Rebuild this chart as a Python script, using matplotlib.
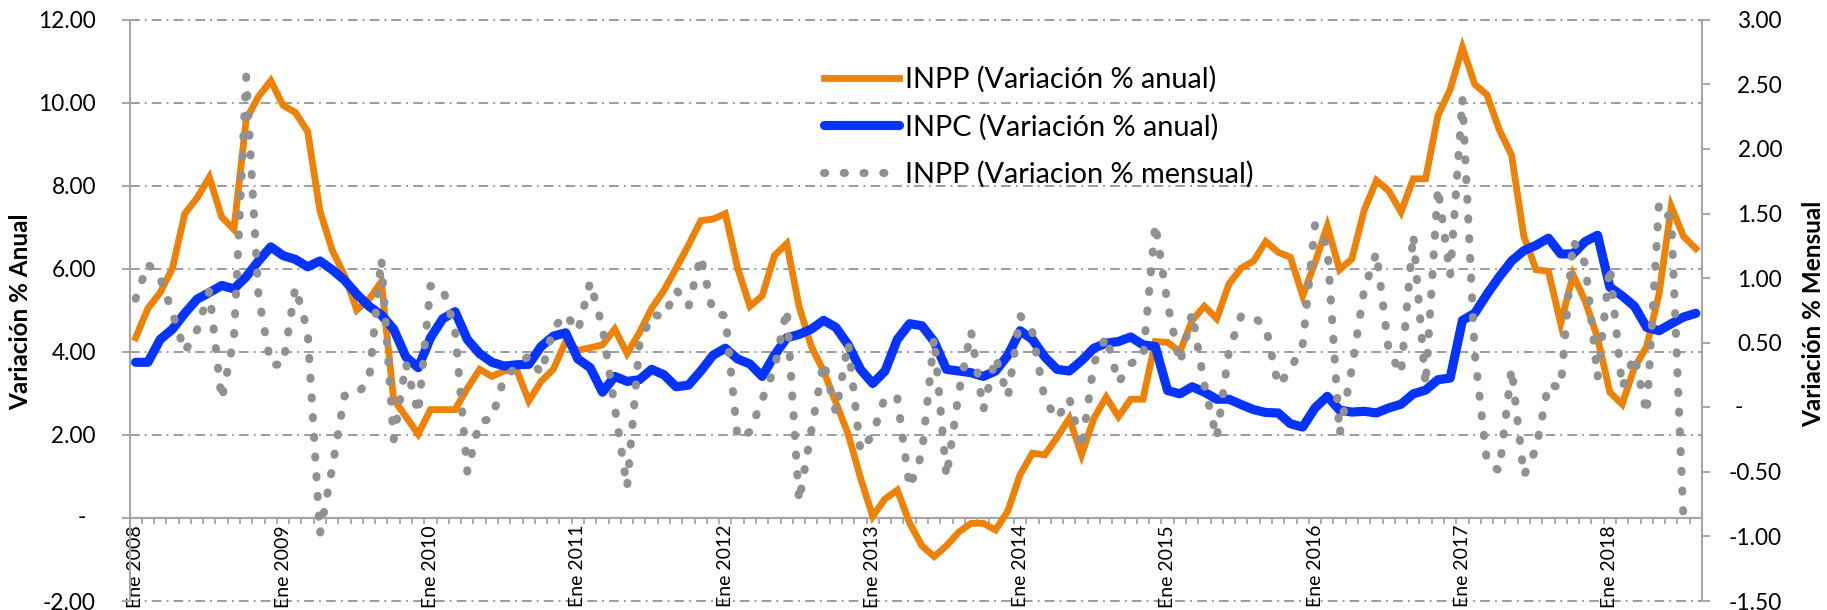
import matplotlib
matplotlib.use('Agg')
import matplotlib.pyplot as plt
import numpy as np
from matplotlib.transforms import offset_copy

# ---------------- data (monthly, Ene 2008 - Ago 2018) ----------------
inpp_anual = [4.34, 5.05, 5.43, 6.02, 7.33, 7.71, 8.21, 7.25, 6.95, 9.60, 10.15, 10.53,
              9.94, 9.77, 9.31, 7.40, 6.45, 5.85, 5.01, 5.27, 5.69, 2.86, 2.44, 2.02,
              2.61, 2.61, 2.61, 3.12, 3.58, 3.41, 3.54, 3.58, 2.82, 3.29, 3.58, 4.25,
              4.04, 4.10, 4.17, 4.55, 3.96, 4.46, 5.05, 5.48, 6.02, 6.57, 7.16, 7.20,
              7.33, 6.02, 5.10, 5.35, 6.32, 6.61, 5.10, 4.13, 3.54, 2.78, 2.02, 0.97,
              0.04, 0.46, 0.67, -0.12, -0.67, -0.93, -0.67, -0.34, -0.13, -0.13, -0.29, 0.17,
              1.05, 1.56, 1.52, 1.94, 2.40, 1.52, 2.40, 2.91, 2.44, 2.86, 2.86, 4.25,
              4.23, 4.00, 4.76, 5.10, 4.80, 5.64, 6.02, 6.19, 6.66, 6.40, 6.28, 5.35,
              6.15, 7.03, 5.98, 6.24, 7.41, 8.13, 7.88, 7.37, 8.17, 8.17, 9.69, 10.32,
              11.33, 10.45, 10.19, 9.35, 8.74, 6.78, 5.98, 5.94, 4.68, 5.86, 5.22, 4.34,
              3.03, 2.74, 3.62, 4.13, 5.39, 7.50, 6.78, 6.49]

inpc_anual = [3.75, 3.75, 4.30, 4.55, 4.93, 5.27, 5.43, 5.60, 5.52, 5.81, 6.19, 6.53,
              6.32, 6.23, 6.05, 6.19, 5.98, 5.73, 5.39, 5.10, 4.89, 4.55, 3.88, 3.62,
              4.34, 4.80, 4.97, 4.30, 3.96, 3.75, 3.66, 3.69, 3.70, 4.13, 4.38, 4.46,
              3.83, 3.62, 3.03, 3.41, 3.29, 3.33, 3.58, 3.45, 3.16, 3.20, 3.54, 3.92,
              4.09, 3.83, 3.71, 3.41, 3.92, 4.34, 4.42, 4.55, 4.76, 4.59, 4.17, 3.58,
              3.24, 3.54, 4.30, 4.68, 4.63, 4.25, 3.58, 3.54, 3.50, 3.41, 3.54, 3.92,
              4.51, 4.30, 3.88, 3.58, 3.54, 3.79, 4.09, 4.21, 4.25, 4.36, 4.17, 4.13,
              3.07, 2.99, 3.16, 3.03, 2.86, 2.86, 2.73, 2.61, 2.54, 2.53, 2.27, 2.19,
              2.65, 2.93, 2.60, 2.55, 2.57, 2.53, 2.65, 2.74, 2.99, 3.08, 3.33, 3.37,
              4.76, 4.93, 5.39, 5.81, 6.19, 6.44, 6.57, 6.74, 6.36, 6.36, 6.66, 6.81,
              5.56, 5.35, 5.10, 4.59, 4.51, 4.68, 4.84, 4.93]

inpp_mensual = [0.84, 1.11, 1.00, 0.73, 0.43, 0.60, 0.90, 0.06, 0.53, 2.56, 0.86, 0.33,
                0.33, 0.93, 0.59, -0.98, -0.47, 0.09, 0.10, 0.21, 1.15, -0.25, 0.34, -0.05,
                0.94, 0.92, 0.60, -0.50, -0.11, -0.09, 0.23, 0.31, 0.40, 0.26, 0.61, 0.72,
                0.59, 0.97, 0.62, 0.00, -0.62, 0.48, 0.72, 0.70, 0.91, 0.78, 1.17, 0.73,
                0.71, -0.24, -0.19, 0.06, 0.30, 0.76, -0.73, -0.18, 0.35, -0.04, 0.50, -0.34,
                -0.21, 0.08, 0.07, -0.62, -0.36, 0.54, -0.54, 0.11, 0.59, -0.02, 0.39, 0.08,
                0.71, 0.58, 0.06, -0.09, 0.07, -0.32, 0.34, 0.55, 0.19, 0.34, 0.38, 1.42,
                0.80, 0.34, 0.73, 0.17, -0.24, 0.44, 0.71, 0.70, 0.62, 0.17, 0.29, 0.49,
                1.41, 1.25, -0.21, 0.30, 0.91, 1.20, 0.44, 0.26, 1.34, 0.17, 1.70, 1.02,
                2.39, 0.42, -0.43, -0.49, 0.30, -0.53, -0.32, 0.18, 0.15, 1.29, 1.11, 0.23,
                1.09, 0.15, 0.40, -0.05, 1.58, 1.45, -0.89]

years = list(range(2008, 2019))
x_labels = ["Ene %d" % y for y in years]
left_ticks = [-2, 0, 2, 4, 6, 8, 10, 12]
right_ticks = [-1.5, -1.0, -0.5, 0.0, 0.5, 1.0, 1.5, 2.0, 2.5, 3.0]
series_names = ["INPP (Variación % anual)", "INPC (Variación % anual)",
                "INPP (Variacion % mensual)"]

# ---------------- style ----------------
plt.rcParams['font.family'] = ['Lato', 'DejaVu Sans']
ORANGE = '#EE8208'
BLUE = '#0533FF'
GRAYDOT = '#919191'
GRID = '#9C9C9C'
SPINE = '#A6A6A6'

W, H = 1827, 610
fig = plt.figure(figsize=(W / 100, H / 100), dpi=100)
L, R, B, T = 129.5 / W, 1702 / W, 9 / H, (H - 19.8) / H
ax = fig.add_axes([L, B, R - L, T - B])
ax2 = ax.twinx()

n = len(inpp_anual)
x = np.arange(n)
xm = np.arange(len(inpp_mensual))

ax.set_xlim(-0.5, n - 0.5)
ax.set_ylim(-2, 12)
ax2.set_ylim(-1.5, 3)

# gridlines (dash-dot)
for v in left_ticks:
    if v == 0:
        continue
    ax.axhline(v, color=GRID, lw=1.4, linestyle=(0, (5, 2.6, 1, 2.6)),
               zorder=0.5, clip_on=False)

l1, = ax.plot(x, inpp_anual, color=ORANGE, lw=4.9, solid_joinstyle='miter', zorder=3)
l2, = ax.plot(x, inpc_anual, color=BLUE, lw=6.6, solid_joinstyle='round',
              solid_capstyle='round', zorder=4)
l3, = ax2.plot(xm, inpp_mensual, color=GRAYDOT, lw=5.8,
               linestyle=(0, (0.15, 2.3)), dash_capstyle='round', zorder=5)

# spines
for s in ['top', 'right']:
    ax.spines[s].set_visible(False)
for s in ['top', 'bottom', 'left']:
    ax2.spines[s].set_visible(False)
ax.spines['left'].set_color(SPINE)
ax.spines['left'].set_linewidth(1.5)
ax2.spines['right'].set_color(SPINE)
ax2.spines['right'].set_linewidth(1.5)
ax.spines['bottom'].set_position(('data', 0))
ax.spines['bottom'].set_color(SPINE)
ax.spines['bottom'].set_linewidth(1.6)
ax.spines['bottom'].set_zorder(2)

# x axis: monthly minor ticks, labels each January
ax.set_xticks(np.arange(0, n, 12))
ax.set_xticklabels(x_labels, rotation=90, fontsize=14)
ax.set_xticks(np.arange(-0.5, n, 1.0), minor=True)
ax.tick_params(axis='x', which='major', length=0, pad=5)
ax.tick_params(axis='x', which='minor', direction='out', length=4.3,
               width=1.3, color=SPINE)

# left y axis
ax.set_yticks(left_ticks)
ax.set_yticklabels(["" if v == 0 else "%.2f" % v for v in left_ticks], fontsize=16.3)
ax.tick_params(axis='y', direction='out', length=5.8, width=1.4, color=SPINE, pad=18.4)
ax.text(0, 0, "-", transform=offset_copy(ax.get_yaxis_transform(), fig=fig,
                                          x=-47.5 / 100, y=0, units='inches'),
        ha='center', va='center', fontsize=16.3)

# right y axis
ax2.set_yticks(right_ticks)
ax2.set_yticklabels(["" if v == 0 else "%.2f" % v for v in right_ticks], fontsize=16.3)
ax2.tick_params(axis='y', direction='out', length=5.8, width=1.4, color=SPINE, pad=51.8)
for lbl in ax2.get_yticklabels():
    lbl.set_horizontalalignment('right')
ax2.text(1, 0, "-", transform=offset_copy(ax2.get_yaxis_transform(), fig=fig,
                                           x=37 / 100, y=0, units='inches'),
         ha='center', va='center', fontsize=16.3)

# axis titles
fig.text(21 / W, 1 - 312 / H, "Variación % Anual", rotation=90, ha='center',
         va='center', fontsize=17.5, fontweight='bold')
fig.text(1814 / W, 1 - 314 / H, "Variación % Mensual", rotation=90, ha='center',
         va='center', fontsize=17.5, fontweight='bold')

# legend
leg = ax2.legend([l1, l2, l3], series_names, loc='upper left',
                 bbox_to_anchor=(824 / W, 1 - 66 / H), bbox_transform=fig.transFigure,
                 frameon=False, fontsize=20.8, handlelength=2.6, handletextpad=0.2,
                 labelspacing=0.72, borderpad=0, borderaxespad=0)
leg.set_zorder(10)

fig.savefig('out.png', dpi=100)
